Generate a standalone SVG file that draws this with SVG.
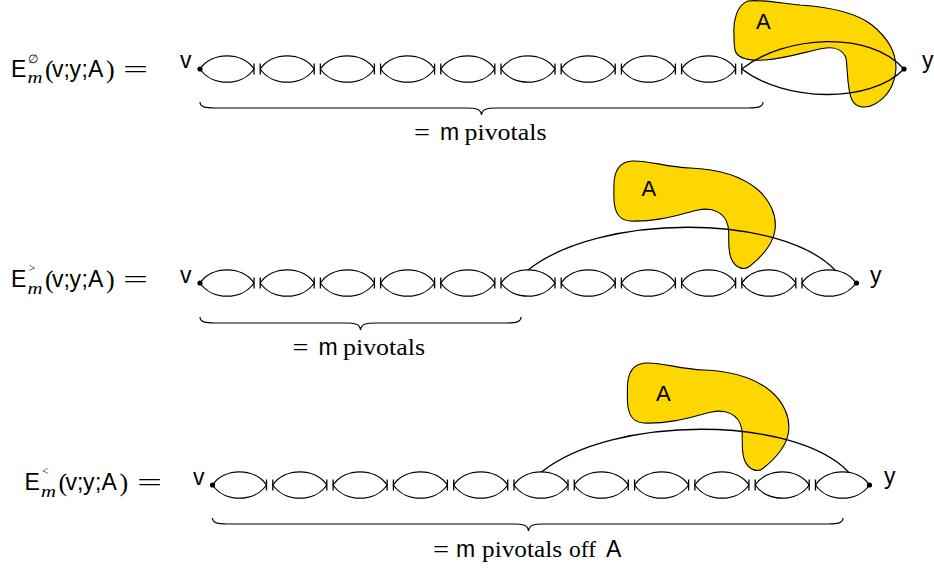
<svg xmlns="http://www.w3.org/2000/svg" xmlns:xlink="http://www.w3.org/1999/xlink" width="934" height="571" viewBox="0 0 934 571">
<style>
.ln{fill:none;stroke:#000;stroke-width:1.3}
.arc{fill:none;stroke:#000;stroke-width:1.3}
.br{fill:none;stroke:#000;stroke-width:1.2}
.blob{fill:#FFD700;stroke:#000;stroke-width:1.1}
.ss{font-family:"Liberation Sans",Arial,sans-serif;font-size:23px;fill:#000}
.sr{font-family:"Liberation Serif","Times New Roman",serif;font-size:24px;fill:#000}
.par{font-family:"Liberation Serif","Times New Roman",serif;font-size:26px;fill:#000}
.sub{font-family:"Liberation Serif","Times New Roman",serif;font-style:italic;font-size:17px;fill:#000}
.sup{font-family:"Liberation Serif","DejaVu Serif",serif;font-size:12px;fill:#000}
.bA{font-family:"Liberation Sans",Arial,sans-serif;font-size:22px;fill:#000}
</style>
<defs>
<path id="lens" class="ln" d="M0,0 C12,-17.5 42,-17.5 54,0 C42,17.5 12,17.5 0,0 Z"/>
<line id="bar" class="ln" x1="0" y1="-5.5" x2="0" y2="5.5"/>
</defs>

<!-- Blobs (drawn beneath lines) -->
<g id="blobA1">
<path class="blob" d="M734,35 C733,20 737,5 748,1 C760,-1 780,3 800,5 C830,7 855,12 872,25 C888,38 896,52 896,68 C895,85 887,97 875,104 C866,109 856,108 852,100 C847,90 848,72 846,58 C843,50 835,47 826,48 C810,50 790,58 765,60 C748,61 737,58 735,50 C734,45 734,40 734,35 Z"/>
<text class="bA" x="756" y="29">A</text>
</g>
<g id="blobA2">
<path class="blob" d="M614,190 C613,172 618,162 632,161 C648,160 665,167 690,168 C715,169 740,175 757,189 C770,200 777,215 775,230 C773,245 760,258 750,266 C744,271 735,268 731,258 C727,248 730,236 728,226 C725,212 712,207 698,210 C680,214 660,222 630,221 C617,220 613,210 614,190 Z"/>
<text class="bA" x="641.5" y="196">A</text>
</g>
<g id="blobA3">
<path class="blob" transform="translate(13.5,202)" d="M614,190 C613,172 618,162 632,161 C648,160 665,167 690,168 C715,169 740,175 757,189 C770,200 777,215 775,230 C773,245 760,258 750,266 C744,271 735,268 731,258 C727,248 730,236 728,226 C725,212 712,207 698,210 C680,214 660,222 630,221 C617,220 613,210 614,190 Z"/>
<text class="bA" x="656" y="401">A</text>
</g>

<!-- Row 1 -->
<g id="row1-label">
<text class="ss" x="11" y="77">E</text>
<text class="sup" x="28" y="63">∅</text>
<text class="sub" x="27.5" y="83" textLength="15" lengthAdjust="spacingAndGlyphs">m</text>
<text class="par" x="45" y="78">(</text>
<text class="ss" x="52" y="77">v</text>
<text class="ss" x="63.5" y="77">;</text>
<text class="ss" x="69.5" y="77">y</text>
<text class="ss" x="81.5" y="77">;</text>
<text class="ss" x="88" y="77">A</text>
<text class="par" x="106" y="78">)</text>
<text class="sr" x="123" y="77" textLength="25" lengthAdjust="spacingAndGlyphs">=</text>
</g>
<g id="r1-v"><circle cx="200" cy="69" r="2.6"/><text class="ss" x="180" y="68">v</text></g>
<g id="r1-y"><circle cx="904" cy="69" r="2.6"/><text class="ss" x="922" y="68">y</text></g>
<g id="r1-p1" transform="translate(200,69)"><use href="#lens"/><use href="#bar" x="54"/></g>
<g id="r1-p2" transform="translate(260.2,69)"><use href="#bar"/><use href="#lens"/><use href="#bar" x="54"/></g>
<g id="r1-p3" transform="translate(320.4,69)"><use href="#bar"/><use href="#lens"/><use href="#bar" x="54"/></g>
<g id="r1-p4" transform="translate(380.6,69)"><use href="#bar"/><use href="#lens"/><use href="#bar" x="54"/></g>
<g id="r1-p5" transform="translate(440.8,69)"><use href="#bar"/><use href="#lens"/><use href="#bar" x="54"/></g>
<g id="r1-p6" transform="translate(501,69)"><use href="#bar"/><use href="#lens"/><use href="#bar" x="54"/></g>
<g id="r1-p7" transform="translate(561.2,69)"><use href="#bar"/><use href="#lens"/><use href="#bar" x="54"/></g>
<g id="r1-p8" transform="translate(621.4,69)"><use href="#bar"/><use href="#lens"/><use href="#bar" x="54"/></g>
<g id="r1-p9" transform="translate(681.6,69)"><use href="#bar"/><use href="#lens"/><use href="#bar" x="54"/></g>
<g id="r1-brace"><path class="br" d="M200,102 C200,107 205,108 215,108 L466,108 C476,108 481,109 481.5,115 C482,109 487,108 497,108 L748,108 C758,108 763,107 763,102"/>
<text class="sr" x="414" y="140" textLength="16" lengthAdjust="spacingAndGlyphs">=</text>
<text class="ss" x="440" y="140">m</text>
<text class="sr" x="464.5" y="140" textLength="82" lengthAdjust="spacingAndGlyphs">pivotals</text>
</g>

<!-- Row 2 -->
<g id="row2-label">
<text class="ss" x="11" y="287">E</text>
<text class="sup" x="28.5" y="272">&gt;</text>
<text class="sub" x="27.5" y="294" textLength="15" lengthAdjust="spacingAndGlyphs">m</text>
<text class="par" x="45" y="288">(</text>
<text class="ss" x="52" y="287">v</text>
<text class="ss" x="63.5" y="287">;</text>
<text class="ss" x="69.5" y="287">y</text>
<text class="ss" x="81.5" y="287">;</text>
<text class="ss" x="88" y="287">A</text>
<text class="par" x="106" y="288">)</text>
<text class="sr" x="123" y="287" textLength="25" lengthAdjust="spacingAndGlyphs">=</text>
</g>
<g id="r2-v"><circle cx="200" cy="283" r="2.6"/><text class="ss" x="180" y="283">v</text></g>
<g id="r2-y"><circle cx="856.5" cy="283" r="2.6"/><text class="ss" x="870" y="283">y</text></g>
<g id="r2-p1" transform="translate(200,283)"><use href="#lens"/><use href="#bar" x="54"/></g>
<g id="r2-p2" transform="translate(260.2,283)"><use href="#bar"/><use href="#lens"/><use href="#bar" x="54"/></g>
<g id="r2-p3" transform="translate(320.4,283)"><use href="#bar"/><use href="#lens"/><use href="#bar" x="54"/></g>
<g id="r2-p4" transform="translate(380.6,283)"><use href="#bar"/><use href="#lens"/><use href="#bar" x="54"/></g>
<g id="r2-p5" transform="translate(440.8,283)"><use href="#bar"/><use href="#lens"/><use href="#bar" x="54"/></g>
<g id="r2-p6" transform="translate(501,283)"><use href="#bar"/><use href="#lens"/><use href="#bar" x="54"/></g>
<g id="r2-p7" transform="translate(561.2,283)"><use href="#bar"/><use href="#lens"/><use href="#bar" x="54"/></g>
<g id="r2-p8" transform="translate(621.4,283)"><use href="#bar"/><use href="#lens"/><use href="#bar" x="54"/></g>
<g id="r2-p9" transform="translate(681.6,283)"><use href="#bar"/><use href="#lens"/><use href="#bar" x="54"/></g>
<g id="r2-p10" transform="translate(741.8,283)"><use href="#bar"/><use href="#lens"/><use href="#bar" x="54"/></g>
<g id="r2-p11" transform="translate(802,283)"><use href="#bar"/><use href="#lens"/></g>
<g id="r2-brace"><path class="br" d="M200,317 C200,322 205,323 215,323 L345,323 C355,323 360,324 360.5,330 C361,324 366,323 376,323 L506,323 C516,323 521,322 521,317"/>
<text class="sr" x="292.5" y="355" textLength="16" lengthAdjust="spacingAndGlyphs">=</text>
<text class="ss" x="318.5" y="355">m</text>
<text class="sr" x="343" y="355" textLength="82" lengthAdjust="spacingAndGlyphs">pivotals</text>
</g>

<!-- Row 3 -->
<g id="row3-label">
<text class="ss" x="24.5" y="490">E</text>
<text class="sup" x="42" y="475">&lt;</text>
<text class="sub" x="41" y="497" textLength="15" lengthAdjust="spacingAndGlyphs">m</text>
<text class="par" x="58.5" y="491">(</text>
<text class="ss" x="65.5" y="490">v</text>
<text class="ss" x="77" y="490">;</text>
<text class="ss" x="83" y="490">y</text>
<text class="ss" x="95" y="490">;</text>
<text class="ss" x="101.5" y="490">A</text>
<text class="par" x="119.5" y="491">)</text>
<text class="sr" x="137" y="490" textLength="25" lengthAdjust="spacingAndGlyphs">=</text>
</g>
<g id="r3-v"><circle cx="212.5" cy="485" r="2.6"/><text class="ss" x="193" y="485">v</text></g>
<g id="r3-y"><circle cx="869.5" cy="485" r="2.6"/><text class="ss" x="884" y="484">y</text></g>
<g id="r3-p1" transform="translate(212.5,485)"><use href="#lens"/><use href="#bar" x="54"/></g>
<g id="r3-p2" transform="translate(272.8,485)"><use href="#bar"/><use href="#lens"/><use href="#bar" x="54"/></g>
<g id="r3-p3" transform="translate(333.1,485)"><use href="#bar"/><use href="#lens"/><use href="#bar" x="54"/></g>
<g id="r3-p4" transform="translate(393.4,485)"><use href="#bar"/><use href="#lens"/><use href="#bar" x="54"/></g>
<g id="r3-p5" transform="translate(453.7,485)"><use href="#bar"/><use href="#lens"/><use href="#bar" x="54"/></g>
<g id="r3-p6" transform="translate(514,485)"><use href="#bar"/><use href="#lens"/><use href="#bar" x="54"/></g>
<g id="r3-p7" transform="translate(574.3,485)"><use href="#bar"/><use href="#lens"/><use href="#bar" x="54"/></g>
<g id="r3-p8" transform="translate(634.6,485)"><use href="#bar"/><use href="#lens"/><use href="#bar" x="54"/></g>
<g id="r3-p9" transform="translate(694.9,485)"><use href="#bar"/><use href="#lens"/><use href="#bar" x="54"/></g>
<g id="r3-p10" transform="translate(755.2,485)"><use href="#bar"/><use href="#lens"/><use href="#bar" x="54"/></g>
<g id="r3-p11" transform="translate(815.5,485)"><use href="#bar"/><use href="#lens"/></g>
<g id="r3-brace"><path class="br" d="M212.5,518 C212.5,523 217.5,524 227.5,524 L513,524 C523,524 528,525 528.5,531 C529,525 534,524 544,524 L828,524 C838,524 843,523 843,518"/>
<text class="sr" x="433" y="557" textLength="16" lengthAdjust="spacingAndGlyphs">=</text>
<text class="ss" x="456" y="557">m</text>
<text class="sr" x="482" y="557" textLength="80" lengthAdjust="spacingAndGlyphs">pivotals</text>
<text class="sr" x="569" y="557" textLength="27" lengthAdjust="spacingAndGlyphs">off</text>
<text class="ss" x="606" y="557">A</text>
</g>

<!-- Connectors -->
<g id="connectors">
<g id="r1-last" transform="translate(741.8,69)"><use href="#bar"/></g>
<path class="arc" d="M741.8,69 C785,35 870,30 904,69"/>
<path class="arc" d="M741.8,69 C785,102 870,104 904,69"/>
<path class="arc" d="M528,270 C600,213 780,213 835,270"/>
<path class="arc" d="M541.5,472 C613.5,415 793.5,415 848.5,472"/>
</g>
</svg>
